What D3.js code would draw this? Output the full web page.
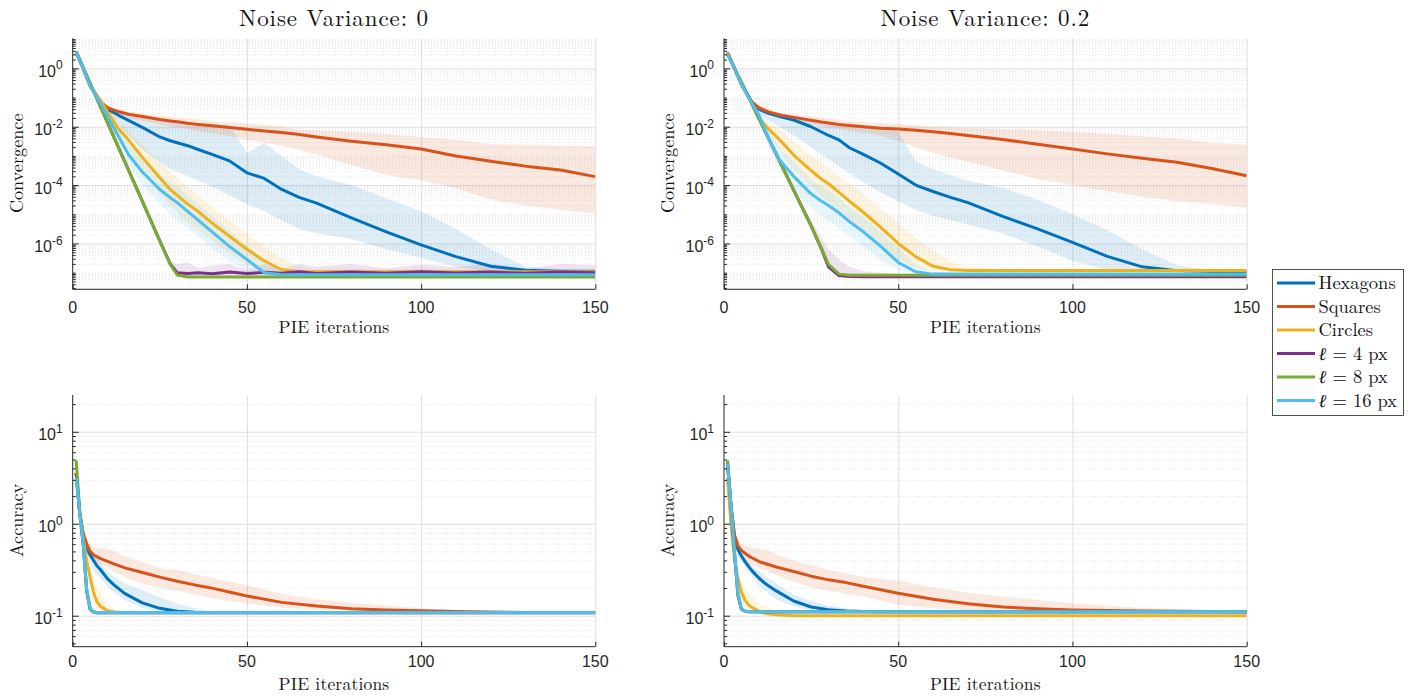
<!DOCTYPE html>
<html>
<head>
<meta charset="utf-8">
<script src="https://cdn.jsdelivr.net/npm/d3@7"></script>
<style>
  body { margin: 0; background: #fff; }
  .serif { font-family: "Latin Modern Roman", "CMU Serif", "Liberation Serif", serif; fill: #111; }
  .tick-label { font-family: "Liberation Sans", Arial, Helvetica, sans-serif; font-size: 16px; fill: #262626; }
</style>
</head>
<body>
<svg id="chart" width="1413" height="696"></svg>
<script>

var ITER_CONV = [1, 3, 5, 8, 10, 13, 16, 20, 25, 28, 30, 33, 36, 40, 45, 50, 55, 60, 65, 70, 80, 90, 100, 110, 120, 130, 140, 150];
var ITER_ACC = [1, 2, 3, 4, 5, 6, 7, 8, 10, 12, 15, 20, 25, 30, 35, 40, 50, 60, 70, 80, 90, 100, 110, 120, 130, 140, 150];

var SERIES = ["Hexagons", "Squares", "Circles", "ℓ = 4 px", "ℓ = 8 px", "ℓ = 16 px"];
var COLORS = ["#0072BD", "#D95319", "#EDB120", "#7E2F8E", "#77AC30", "#4DBEEE"];

var X_TICKS = [0, 50, 100, 150];
var CONV_TICKS = [1e-6, 1e-4, 1e-2, 1];
var ACC_TICKS = [1e-1, 1, 10];

// all values below are log10 of the plotted quantity

// ---- Convergence, noise variance 0 ----
var conv0_hex   = [0.55, 0.0, -0.6, -1.15, -1.4, -1.6, -1.78, -2.02, -2.35, -2.48, -2.55, -2.65, -2.78, -2.95, -3.17, -3.58, -3.77, -4.15, -4.42, -4.62, -5.12, -5.6, -6.05, -6.45, -6.78, -6.92, -6.95, -6.95];
var conv0_hexLo = [0.5, -0.05, -0.65, -1.25, -1.5, -1.9, -2.3, -2.8, -3.2, -3.45, -3.55, -3.7, -3.85, -4.05, -4.35, -4.65, -4.9, -5.2, -5.5, -5.65, -5.85, -6.2, -6.5, -6.8, -6.95, -6.97, -6.97, -6.97];
var conv0_hexHi = [0.6, 0.05, -0.55, -1.1, -1.3, -1.45, -1.55, -1.65, -1.75, -1.8, -1.82, -1.85, -1.88, -1.9, -1.95, -2.9, -2.55, -3.0, -3.45, -3.7, -4.0, -4.45, -4.9, -5.5, -6.2, -6.8, -6.9, -6.92];
var conv0_sq    = [0.55, 0.0, -0.6, -1.15, -1.35, -1.48, -1.57, -1.65, -1.75, -1.8, -1.83, -1.88, -1.92, -1.97, -2.03, -2.09, -2.15, -2.2, -2.27, -2.35, -2.5, -2.62, -2.76, -3.0, -3.18, -3.35, -3.48, -3.71];
var conv0_sqLo  = [0.5, -0.05, -0.65, -1.2, -1.42, -1.58, -1.7, -1.8, -1.92, -1.98, -2.02, -2.08, -2.15, -2.22, -2.32, -2.46, -2.55, -2.65, -2.8, -2.95, -3.3, -3.65, -3.85, -4.1, -4.5, -4.7, -4.85, -4.97];
var conv0_sqHi  = [0.6, 0.05, -0.55, -1.1, -1.28, -1.4, -1.48, -1.55, -1.62, -1.66, -1.68, -1.72, -1.75, -1.8, -1.85, -1.88, -1.93, -2.0, -2.1, -2.12, -2.18, -2.25, -2.35, -2.45, -2.6, -2.62, -2.65, -2.68];
var conv0_circ   = [0.55, 0.0, -0.6, -1.1, -1.5, -2.05, -2.45, -3.05, -3.75, -4.15, -4.35, -4.65, -4.9, -5.3, -5.75, -6.2, -6.6, -6.9, -6.97, -6.97, -6.97, -6.97, -6.97, -6.97, -6.97, -6.97, -6.97, -6.97];
var conv0_circLo = [0.5, -0.05, -0.65, -1.2, -1.6, -2.3, -2.8, -3.5, -4.3, -4.7, -4.95, -5.3, -5.55, -5.9, -6.35, -6.75, -6.95, -7.0, -7.0, -7.0, -7.0, -7.0, -7.0, -7.0, -7.0, -7.0, -7.0, -7.0];
var conv0_circHi = [0.6, 0.05, -0.55, -1.0, -1.35, -1.8, -2.15, -2.6, -3.2, -3.55, -3.75, -4.05, -4.35, -4.75, -5.2, -5.65, -6.1, -6.5, -6.8, -6.9, -6.85, -6.9, -6.85, -6.9, -6.85, -6.9, -6.88, -6.9];
var conv0_l4   = [0.57, 0.03, -0.51, -1.32, -1.86, -2.67, -3.48, -4.56, -5.91, -6.7, -7.0, -7.03, -7.0, -7.04, -6.98, -7.03, -6.99, -7.02, -6.97, -7.03, -6.98, -7.02, -6.97, -7.01, -6.98, -7.02, -6.98, -7.0];
var conv0_l4Lo = [0.52, -0.02, -0.56, -1.37, -1.91, -2.72, -3.53, -4.61, -5.96, -6.8, -7.1, -7.12, -7.12, -7.12, -7.12, -7.12, -7.12, -7.12, -7.12, -7.12, -7.12, -7.12, -7.12, -7.12, -7.12, -7.12, -7.12, -7.12];
var conv0_l4Hi = [0.62, 0.08, -0.46, -1.27, -1.81, -2.62, -3.43, -4.51, -5.86, -6.6, -6.7, -6.65, -6.85, -6.75, -6.7, -6.9, -6.72, -6.85, -6.7, -6.8, -6.7, -6.85, -6.72, -6.8, -6.7, -6.85, -6.7, -6.75];
var conv0_l8   = [0.57, 0.03, -0.51, -1.32, -1.86, -2.67, -3.48, -4.56, -5.91, -6.72, -7.08, -7.15, -7.15, -7.15, -7.15, -7.15, -7.15, -7.15, -7.15, -7.15, -7.15, -7.15, -7.15, -7.15, -7.15, -7.15, -7.15, -7.15];
var conv0_l16   = [0.55, 0.0, -0.6, -1.2, -1.65, -2.3, -2.95, -3.55, -4.15, -4.43, -4.6, -4.9, -5.2, -5.6, -6.1, -6.55, -7.0, -7.07, -7.07, -7.07, -7.07, -7.07, -7.07, -7.07, -7.07, -7.07, -7.07, -7.07];
var conv0_l16Lo = [0.5, -0.05, -0.65, -1.3, -1.85, -2.55, -3.3, -4.0, -4.65, -5.0, -5.2, -5.45, -5.75, -6.15, -6.6, -6.95, -7.08, -7.1, -7.1, -7.1, -7.1, -7.1, -7.1, -7.1, -7.1, -7.1, -7.1, -7.1];
var conv0_l16Hi = [0.6, 0.05, -0.55, -1.1, -1.5, -2.05, -2.6, -3.1, -3.6, -3.9, -4.05, -4.35, -4.65, -5.05, -5.55, -6.05, -6.6, -7.0, -7.03, -7.03, -7.03, -7.03, -7.03, -7.03, -7.03, -7.03, -7.03, -7.03];

// ---- Convergence, noise variance 0.2 ----
var conv2_hex   = [0.55, 0.0, -0.55, -1.15, -1.4, -1.55, -1.65, -1.77, -2.0, -2.18, -2.3, -2.45, -2.72, -2.95, -3.25, -3.62, -4.0, -4.22, -4.42, -4.6, -5.07, -5.5, -5.96, -6.44, -6.8, -6.93, -6.96, -6.96];
var conv2_hexLo = [0.5, -0.05, -0.6, -1.25, -1.55, -1.8, -2.0, -2.3, -2.7, -2.95, -3.1, -3.35, -3.6, -3.9, -4.25, -4.55, -4.85, -5.05, -5.2, -5.35, -5.65, -6.1, -6.6, -6.9, -6.96, -6.97, -6.97, -6.97];
var conv2_hexHi = [0.6, 0.05, -0.5, -1.1, -1.3, -1.45, -1.55, -1.65, -1.75, -1.8, -1.85, -1.9, -1.95, -2.0, -2.05, -2.15, -3.2, -3.45, -3.65, -3.85, -4.1, -4.5, -5.0, -5.55, -6.2, -6.75, -6.92, -6.93];
var conv2_sq    = [0.55, 0.0, -0.55, -1.15, -1.35, -1.5, -1.6, -1.68, -1.78, -1.84, -1.87, -1.92, -1.96, -2.0, -2.05, -2.08, -2.12, -2.17, -2.23, -2.3, -2.44, -2.6, -2.76, -2.93, -3.08, -3.22, -3.43, -3.68];
var conv2_sqLo  = [0.5, -0.05, -0.6, -1.2, -1.42, -1.58, -1.7, -1.8, -1.92, -1.98, -2.02, -2.08, -2.14, -2.2, -2.3, -2.5, -2.7, -2.9, -3.05, -3.2, -3.5, -3.8, -4.0, -4.2, -4.4, -4.55, -4.65, -4.78];
var conv2_sqHi  = [0.6, 0.05, -0.5, -1.1, -1.28, -1.42, -1.5, -1.57, -1.65, -1.7, -1.73, -1.77, -1.8, -1.84, -1.88, -1.9, -1.95, -2.0, -2.02, -2.05, -2.08, -2.12, -2.18, -2.24, -2.33, -2.4, -2.55, -2.62];
var conv2_circ   = [0.55, 0.02, -0.55, -1.2, -1.72, -2.1, -2.45, -2.97, -3.5, -3.8, -3.95, -4.25, -4.55, -4.93, -5.45, -6.0, -6.45, -6.78, -6.9, -6.93, -6.93, -6.93, -6.93, -6.93, -6.93, -6.93, -6.93, -6.93];
var conv2_circLo = [0.5, -0.03, -0.6, -1.3, -1.85, -2.35, -2.8, -3.45, -4.05, -4.4, -4.6, -4.9, -5.2, -5.55, -6.1, -6.55, -6.85, -6.95, -6.97, -6.97, -6.97, -6.97, -6.97, -6.97, -6.97, -6.97, -6.97, -6.97];
var conv2_circHi = [0.6, 0.07, -0.5, -1.1, -1.55, -1.85, -2.1, -2.5, -3.0, -3.25, -3.4, -3.7, -3.95, -4.3, -4.8, -5.3, -5.8, -6.25, -6.6, -6.8, -6.88, -6.88, -6.88, -6.88, -6.88, -6.88, -6.88, -6.88];
var conv2_l4   = [0.5, 0.01, -0.48, -1.22, -1.71, -2.45, -3.19, -4.17, -5.4, -6.2, -6.8, -7.1, -7.13, -7.14, -7.14, -7.14, -7.14, -7.14, -7.14, -7.14, -7.14, -7.14, -7.14, -7.14, -7.14, -7.14, -7.14, -7.14];
var conv2_l4Lo = [0.45, -0.04, -0.53, -1.27, -1.76, -2.5, -3.24, -4.22, -5.45, -6.3, -6.9, -7.15, -7.17, -7.18, -7.18, -7.18, -7.18, -7.18, -7.18, -7.18, -7.18, -7.18, -7.18, -7.18, -7.18, -7.18, -7.18, -7.18];
var conv2_l4Hi = [0.55, 0.06, -0.43, -1.17, -1.66, -2.4, -3.14, -4.1, -5.2, -5.8, -6.2, -6.55, -6.8, -6.95, -7.0, -7.05, -7.08, -7.08, -7.08, -7.08, -7.08, -7.08, -7.08, -7.08, -7.08, -7.08, -7.08, -7.08];
var conv2_l8   = [0.5, 0.01, -0.48, -1.22, -1.71, -2.45, -3.19, -4.17, -5.4, -6.18, -6.72, -7.05, -7.09, -7.09, -7.09, -7.09, -7.09, -7.09, -7.09, -7.09, -7.09, -7.09, -7.09, -7.09, -7.09, -7.09, -7.09, -7.09];
var conv2_l16   = [0.5, 0.0, -0.55, -1.2, -1.6, -2.45, -3.15, -3.7, -4.3, -4.55, -4.7, -4.95, -5.25, -5.6, -6.1, -6.65, -6.97, -7.05, -7.05, -7.05, -7.05, -7.05, -7.05, -7.05, -7.05, -7.05, -7.05, -7.05];
var conv2_l16Lo = [0.45, -0.05, -0.6, -1.3, -1.8, -2.75, -3.5, -4.2, -4.8, -5.05, -5.2, -5.5, -5.75, -6.1, -6.6, -6.9, -7.05, -7.08, -7.08, -7.08, -7.08, -7.08, -7.08, -7.08, -7.08, -7.08, -7.08, -7.08];
var conv2_l16Hi = [0.55, 0.05, -0.5, -1.1, -1.45, -2.15, -2.75, -3.2, -3.8, -4.05, -4.2, -4.45, -4.75, -5.1, -5.6, -6.15, -6.7, -6.98, -7.0, -7.0, -7.0, -7.0, -7.0, -7.0, -7.0, -7.0, -7.0, -7.0];

// ---- Accuracy, noise variance 0 ----
var acc0_hex   = [0.55, 0.12, -0.12, -0.26, -0.34, -0.4, -0.46, -0.5, -0.6, -0.67, -0.76, -0.86, -0.92, -0.952, -0.962, -0.965, -0.965, -0.965, -0.965, -0.965, -0.965, -0.965, -0.965, -0.965, -0.965, -0.965, -0.965];
var acc0_hexLo = [0.5, 0.08, -0.16, -0.32, -0.42, -0.5, -0.56, -0.6, -0.68, -0.75, -0.83, -0.92, -0.95, -0.962, -0.965, -0.965, -0.965, -0.965, -0.965, -0.965, -0.965, -0.965, -0.965, -0.965, -0.965, -0.965, -0.965];
var acc0_hexHi = [0.6, 0.16, -0.08, -0.2, -0.28, -0.33, -0.38, -0.42, -0.52, -0.58, -0.65, -0.72, -0.8, -0.87, -0.92, -0.95, -0.962, -0.965, -0.965, -0.965, -0.965, -0.965, -0.965, -0.965, -0.965, -0.965, -0.965];
var acc0_sq    = [0.55, 0.12, -0.1, -0.22, -0.3, -0.34, -0.36, -0.38, -0.41, -0.44, -0.48, -0.53, -0.58, -0.625, -0.665, -0.7, -0.785, -0.855, -0.895, -0.925, -0.937, -0.945, -0.955, -0.961, -0.964, -0.965, -0.965];
var acc0_sqLo  = [0.5, 0.08, -0.15, -0.28, -0.36, -0.4, -0.42, -0.44, -0.47, -0.52, -0.58, -0.65, -0.7, -0.73, -0.77, -0.81, -0.87, -0.91, -0.935, -0.95, -0.955, -0.96, -0.965, -0.965, -0.965, -0.965, -0.965];
var acc0_sqHi  = [0.6, 0.16, -0.05, -0.17, -0.22, -0.25, -0.26, -0.26, -0.27, -0.3, -0.35, -0.42, -0.48, -0.5, -0.55, -0.59, -0.67, -0.76, -0.82, -0.86, -0.89, -0.92, -0.94, -0.955, -0.962, -0.965, -0.965];
var acc0_circ   = [0.55, 0.12, -0.15, -0.4, -0.58, -0.75, -0.85, -0.9, -0.945, -0.96, -0.965, -0.965, -0.965, -0.965, -0.965, -0.965, -0.965, -0.965, -0.965, -0.965, -0.965, -0.965, -0.965, -0.965, -0.965, -0.965, -0.965];
var acc0_circLo = [0.5, 0.08, -0.22, -0.5, -0.7, -0.85, -0.92, -0.95, -0.96, -0.967, -0.967, -0.967, -0.967, -0.967, -0.967, -0.967, -0.967, -0.967, -0.967, -0.967, -0.967, -0.967, -0.967, -0.967, -0.967, -0.967, -0.967];
var acc0_circHi = [0.6, 0.16, -0.1, -0.3, -0.45, -0.6, -0.7, -0.75, -0.88, -0.93, -0.955, -0.965, -0.965, -0.965, -0.965, -0.965, -0.965, -0.965, -0.965, -0.965, -0.965, -0.965, -0.965, -0.965, -0.965, -0.965, -0.965];
var acc0_l4  = [0.55, 0.12, -0.22, -0.73, -0.93, -0.96, -0.967, -0.967, -0.967, -0.967, -0.967, -0.967, -0.967, -0.967, -0.967, -0.967, -0.967, -0.967, -0.967, -0.967, -0.967, -0.967, -0.967, -0.967, -0.967, -0.967, -0.967];
var acc0_l8  = [0.69, 0.15, -0.2, -0.72, -0.93, -0.96, -0.967, -0.967, -0.967, -0.967, -0.967, -0.967, -0.967, -0.967, -0.967, -0.967, -0.967, -0.967, -0.967, -0.967, -0.967, -0.967, -0.967, -0.967, -0.967, -0.967, -0.967];
var acc0_l16 = [0.5, 0.12, -0.2, -0.7, -0.92, -0.96, -0.965, -0.965, -0.965, -0.965, -0.965, -0.965, -0.965, -0.965, -0.965, -0.965, -0.965, -0.965, -0.965, -0.965, -0.965, -0.965, -0.965, -0.965, -0.965, -0.965, -0.965];

// ---- Accuracy, noise variance 0.2 ----
var acc2_hex   = [0.65, 0.2, -0.14, -0.28, -0.35, -0.41, -0.46, -0.51, -0.59, -0.655, -0.73, -0.84, -0.905, -0.935, -0.948, -0.955, -0.957, -0.957, -0.957, -0.957, -0.957, -0.957, -0.957, -0.957, -0.957, -0.957, -0.957];
var acc2_hexLo = [0.6, 0.15, -0.18, -0.34, -0.41, -0.47, -0.52, -0.57, -0.67, -0.74, -0.82, -0.9, -0.935, -0.95, -0.957, -0.957, -0.957, -0.957, -0.957, -0.957, -0.957, -0.957, -0.957, -0.957, -0.957, -0.957, -0.957];
var acc2_hexHi = [0.7, 0.25, -0.1, -0.22, -0.3, -0.36, -0.41, -0.46, -0.52, -0.57, -0.65, -0.77, -0.84, -0.89, -0.92, -0.94, -0.952, -0.957, -0.957, -0.957, -0.957, -0.957, -0.957, -0.957, -0.957, -0.957, -0.957];
var acc2_sq    = [0.65, 0.2, -0.12, -0.24, -0.29, -0.32, -0.35, -0.37, -0.41, -0.435, -0.47, -0.52, -0.57, -0.61, -0.64, -0.68, -0.755, -0.82, -0.87, -0.905, -0.925, -0.937, -0.944, -0.948, -0.951, -0.954, -0.956];
var acc2_sqLo  = [0.6, 0.15, -0.17, -0.3, -0.37, -0.41, -0.44, -0.46, -0.48, -0.5, -0.56, -0.63, -0.69, -0.73, -0.76, -0.79, -0.88, -0.92, -0.94, -0.95, -0.955, -0.957, -0.957, -0.957, -0.957, -0.957, -0.957];
var acc2_sqHi  = [0.7, 0.25, -0.07, -0.18, -0.22, -0.24, -0.25, -0.26, -0.27, -0.28, -0.33, -0.4, -0.45, -0.5, -0.54, -0.58, -0.62, -0.69, -0.75, -0.79, -0.83, -0.865, -0.89, -0.915, -0.93, -0.945, -0.95];
var acc2_circ   = [0.5, 0.0, -0.38, -0.6, -0.74, -0.83, -0.88, -0.91, -0.95, -0.975, -0.99, -1.0, -1.0, -1.0, -1.0, -1.0, -1.0, -1.0, -1.0, -1.0, -1.0, -1.0, -1.0, -1.0, -1.0, -1.0, -1.0];
var acc2_circLo = [0.45, -0.05, -0.45, -0.7, -0.85, -0.92, -0.96, -0.98, -0.995, -1.0, -1.0, -1.0, -1.0, -1.0, -1.0, -1.0, -1.0, -1.0, -1.0, -1.0, -1.0, -1.0, -1.0, -1.0, -1.0, -1.0, -1.0];
var acc2_circHi = [0.55, 0.05, -0.3, -0.5, -0.62, -0.7, -0.75, -0.78, -0.86, -0.9, -0.95, -0.99, -1.0, -1.0, -1.0, -1.0, -1.0, -1.0, -1.0, -1.0, -1.0, -1.0, -1.0, -1.0, -1.0, -1.0, -1.0];
var acc2_l4  = [0.68, 0.18, -0.32, -0.78, -0.93, -0.95, -0.957, -0.957, -0.957, -0.957, -0.957, -0.957, -0.957, -0.957, -0.957, -0.957, -0.957, -0.957, -0.957, -0.957, -0.957, -0.957, -0.957, -0.957, -0.957, -0.957, -0.957];
var acc2_l8  = [0.69, 0.2, -0.3, -0.77, -0.93, -0.952, -0.957, -0.957, -0.957, -0.957, -0.957, -0.957, -0.957, -0.957, -0.957, -0.957, -0.957, -0.957, -0.957, -0.957, -0.957, -0.957, -0.957, -0.957, -0.957, -0.957, -0.957];
var acc2_l16 = [0.65, 0.2, -0.3, -0.75, -0.92, -0.95, -0.955, -0.957, -0.957, -0.957, -0.957, -0.957, -0.957, -0.957, -0.957, -0.957, -0.957, -0.957, -0.957, -0.957, -0.957, -0.957, -0.957, -0.957, -0.957, -0.957, -0.957];

var svg = d3.select("#chart");

var panels = [
  { title: "Noise Variance: 0", ylabel: "Convergence", left: 72.7, right: 595.3, top: 38.3, bottom: 289.3,
    yDomain: [Math.pow(10, -7.57), Math.pow(10, 1.03)], yTicks: CONV_TICKS, iters: ITER_CONV, xTickDy: 24, xLabelDy: 44,
    lines: [conv0_hex, conv0_sq, conv0_circ, conv0_l4, conv0_l8, conv0_l16],
    bands: [[conv0_hexLo, conv0_hexHi], [conv0_sqLo, conv0_sqHi], [conv0_circLo, conv0_circHi], [conv0_l4Lo, conv0_l4Hi], null, [conv0_l16Lo, conv0_l16Hi]] },
  { title: "Noise Variance: 0.2", ylabel: "Convergence", left: 724, right: 1246.7, top: 38.3, bottom: 289.3,
    yDomain: [Math.pow(10, -7.57), Math.pow(10, 1.03)], yTicks: CONV_TICKS, iters: ITER_CONV, xTickDy: 24, xLabelDy: 44,
    lines: [conv2_hex, conv2_sq, conv2_circ, conv2_l4, conv2_l8, conv2_l16],
    bands: [[conv2_hexLo, conv2_hexHi], [conv2_sqLo, conv2_sqHi], [conv2_circLo, conv2_circHi], [conv2_l4Lo, conv2_l4Hi], null, [conv2_l16Lo, conv2_l16Hi]] },
  { title: null, ylabel: "Accuracy", left: 72.7, right: 595.3, top: 395, bottom: 646.7,
    yDomain: [Math.pow(10, -1.337), Math.pow(10, 1.4)], yTicks: ACC_TICKS, iters: ITER_ACC, xTickDy: 20, xLabelDy: 43.5,
    lines: [acc0_hex, acc0_sq, acc0_circ, acc0_l4, acc0_l8, acc0_l16],
    bands: [[acc0_hexLo, acc0_hexHi], [acc0_sqLo, acc0_sqHi], [acc0_circLo, acc0_circHi], null, null, null] },
  { title: null, ylabel: "Accuracy", left: 724, right: 1246.7, top: 395, bottom: 646.7,
    yDomain: [Math.pow(10, -1.337), Math.pow(10, 1.4)], yTicks: ACC_TICKS, iters: ITER_ACC, xTickDy: 20, xLabelDy: 43.5,
    lines: [acc2_hex, acc2_sq, acc2_circ, acc2_l4, acc2_l8, acc2_l16],
    bands: [[acc2_hexLo, acc2_hexHi], [acc2_sqLo, acc2_sqHi], [acc2_circLo, acc2_circHi], null, null, null] }
];

panels.forEach(function(p, pi) {
  var x = d3.scaleLinear().domain([0, 150]).range([p.left, p.right]);
  var y = d3.scaleLog().domain(p.yDomain).range([p.bottom, p.top]);
  var w = p.right - p.left;
  var g = svg.append("g");

  // minor log values (every 1..9 x 10^k that is not a labelled tick)
  var minor = [];
  var k0 = Math.floor(Math.log10(p.yDomain[0])), k1 = Math.ceil(Math.log10(p.yDomain[1]));
  for (var k = k0; k <= k1; k++) {
    for (var m = 1; m < 10; m++) {
      var v = m * Math.pow(10, k);
      var isMajor = p.yTicks.some(function(t) { return Math.abs(t - v) / t < 1e-9; });
      if (v >= p.yDomain[0] && v <= p.yDomain[1] && !isMajor) minor.push(v);
    }
  }

  // minor grid (dotted)
  g.append("g")
    .attr("transform", `translate(${p.left},0)`)
    .call(d3.axisLeft(y).tickValues(minor).tickSize(-w).tickFormat(""))
    .call(s => s.select(".domain").remove())
    .selectAll("line")
      .attr("stroke", "#dadada")
      .attr("stroke-width", 0.8)
      .attr("stroke-dasharray", "1,2.2");

  // major grid
  g.append("g")
    .attr("transform", `translate(${p.left},0)`)
    .call(d3.axisLeft(y).tickValues(p.yTicks).tickSize(-w).tickFormat(""))
    .call(s => s.select(".domain").remove())
    .selectAll("line").attr("stroke", "#dfdfdf").attr("stroke-width", 1);

  g.append("g")
    .attr("transform", `translate(0,${p.bottom})`)
    .call(d3.axisBottom(x).tickValues([50, 100, 150]).tickSize(-(p.bottom - p.top)).tickFormat(""))
    .call(s => s.select(".domain").remove())
    .selectAll("line").attr("stroke", "#dfdfdf").attr("stroke-width", 1);

  // data
  var clipId = "clip" + pi;
  svg.append("clipPath").attr("id", clipId)
    .append("rect").attr("x", p.left).attr("y", p.top).attr("width", w).attr("height", p.bottom - p.top);
  var dg = g.append("g").attr("clip-path", `url(#${clipId})`);

  var area = d3.area()
    .x(d => x(d.it))
    .y0(d => y(Math.pow(10, d.lo)))
    .y1(d => y(Math.pow(10, d.hi)));
  p.bands.forEach(function(b, si) {
    if (!b) return;
    var pts = p.iters.map((it, i) => ({ it: it, lo: b[0][i], hi: b[1][i] }));
    dg.append("path")
      .datum(pts)
      .attr("d", area)
      .attr("fill", COLORS[si])
      .attr("fill-opacity", 0.13)
      .attr("stroke", "none");
  });

  var line = d3.line()
    .x(d => x(d.it))
    .y(d => y(Math.pow(10, d.v)));
  p.lines.forEach(function(vals, si) {
    var pts = p.iters.map((it, i) => ({ it: it, v: vals[i] }));
    dg.append("path")
      .datum(pts)
      .attr("d", line)
      .attr("fill", "none")
      .attr("stroke", COLORS[si])
      .attr("stroke-width", 3)
      .attr("stroke-linejoin", "round");
  });

  // axes (inward ticks, MATLAB style)
  var ax = g.append("g").attr("class", "axes");
  ax.append("g")
    .attr("transform", `translate(${p.left},0)`)
    .call(d3.axisLeft(y).tickValues(minor).tickSize(-3).tickFormat(""))
    .call(s => s.select(".domain").remove())
    .selectAll("line").attr("stroke", "#262626");
  ax.append("g")
    .attr("transform", `translate(${p.left},0)`)
    .call(d3.axisLeft(y).tickValues(p.yTicks).tickSize(-6).tickFormat(""))
    .call(s => s.select(".domain").attr("stroke", "#262626").attr("d", `M0,${p.top}V${p.bottom}`))
    .selectAll("line").attr("stroke", "#262626");
  ax.append("g")
    .attr("transform", `translate(0,${p.bottom})`)
    .call(d3.axisBottom(x).tickValues(X_TICKS).tickSize(-5).tickFormat(""))
    .call(s => s.select(".domain").attr("stroke", "#262626").attr("d", `M${p.left},0H${p.right}`))
    .selectAll("line").attr("stroke", "#262626");

  // y tick labels: 10^k
  p.yTicks.forEach(function(t) {
    var e = Math.round(Math.log10(t));
    var txt = g.append("text")
      .attr("class", "tick-label")
      .attr("x", p.left - 10)
      .attr("y", y(t) + 8.6)
      .attr("text-anchor", "end");
    txt.append("tspan").text("10");
    txt.append("tspan").attr("dy", -7.5).attr("font-size", "12px").text(String(e));
  });

  // x tick labels
  X_TICKS.forEach(function(t) {
    g.append("text")
      .attr("class", "tick-label")
      .attr("x", x(t))
      .attr("y", p.bottom + p.xTickDy)
      .attr("text-anchor", "middle")
      .text(t);
  });

  // axis labels
  g.append("text")
    .attr("class", "serif")
    .attr("x", (p.left + p.right) / 2)
    .attr("y", p.bottom + p.xLabelDy)
    .attr("text-anchor", "middle")
    .style("font-size", "17.5px")
    .style("letter-spacing", "0.2px")
    .text("PIE iterations");

  g.append("text")
    .attr("class", "serif")
    .attr("transform", `translate(${p.left - 50},${(p.top + p.bottom) / 2 - 0.5}) rotate(-90)`)
    .attr("text-anchor", "middle")
    .style("font-size", "18px")
    .style("letter-spacing", "0.1px")
    .text(p.ylabel);

  if (p.title) {
    g.append("text")
      .attr("class", "serif")
      .attr("x", (p.left + p.right) / 2)
      .attr("y", 26)
      .attr("text-anchor", "middle")
      .style("font-size", "23px")
      .style("letter-spacing", "0.9px")
      .text(p.title);
  }
});

// legend
var legend = svg.append("g").attr("transform", "translate(1272.5,269.5)");
legend.append("rect")
  .attr("width", 131).attr("height", 146)
  .attr("fill", "#fff").attr("stroke", "#262626").attr("stroke-width", 0.8);
SERIES.forEach(function(name, i) {
  var ly = 13.5 + i * 23.5;
  legend.append("line")
    .attr("x1", 4.5).attr("x2", 42.5).attr("y1", ly).attr("y2", ly)
    .attr("stroke", COLORS[i]).attr("stroke-width", 3);
  var t = legend.append("text")
    .attr("class", "serif")
    .attr("x", 46)
    .attr("y", ly + 6)
    .style("font-size", "18.5px");
  if (name.charAt(0) === "ℓ") {
    t.append("tspan").style("font-style", "italic").text("ℓ");
    t.append("tspan").text(name.slice(1));
  } else {
    t.text(name);
  }
});
</script>
</body>
</html>
